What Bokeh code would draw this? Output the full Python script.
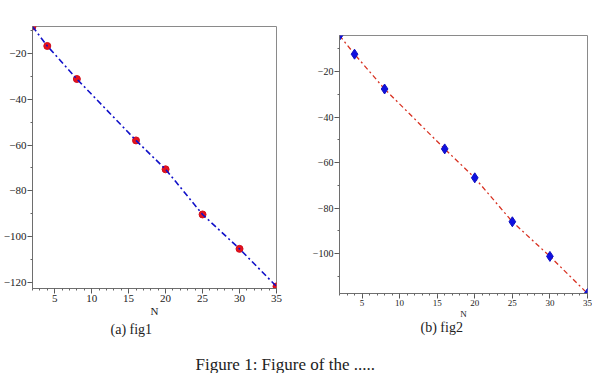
from bokeh.plotting import figure
from bokeh.layouts import column, row
from bokeh.models import Range1d, SingleIntervalTicker, Label, Spacer
from bokeh.embed import file_html
from bokeh.resources import INLINE

# ---- data ----
N = [2, 4, 8, 16, 20, 25, 30, 35]
fig1_vals = [-8.3, -16.8, -31.2, -58.0, -70.6, -90.3, -105.3, -121.7]
fig2_vals = [-4.2, -12.4, -27.7, -54.0, -66.7, -86.0, -101.2, -117.5]
fig1_yrange = (-122.6, -8.3)
fig2_yrange = (-117.5, -4.2)
x_range_vals = (2, 35)
caption_a = "(a) fig1"
caption_b = "(b) fig2"
fig_caption = "Figure 1: Figure of the ....."
xlabel = "N"

SERIF = "Liberation Serif"


def style(p, tick_font, label_font):
    p.xgrid.visible = False
    p.ygrid.visible = False
    p.outline_line_color = "#8a8a8a"
    p.outline_line_width = 1
    p.background_fill_color = "white"
    p.border_fill_color = "white"
    p.xaxis.ticker = SingleIntervalTicker(interval=5, num_minor_ticks=5)
    p.yaxis.ticker = SingleIntervalTicker(interval=20, num_minor_ticks=2)
    for ax in (p.xaxis, p.yaxis):
        ax.axis_line_color = "#6e6e6e"
        ax.major_tick_line_color = "#555555"
        ax.minor_tick_line_color = "#666666"
        ax.major_tick_in = 0
        ax.major_tick_out = 5
        ax.minor_tick_in = 0
        ax.minor_tick_out = 2
        ax.major_label_text_font = SERIF
        ax.major_label_text_font_size = tick_font
        ax.major_label_text_color = "#222222"
        ax.major_label_standoff = 1
        ax.axis_label_text_font = SERIF
        ax.axis_label_text_font_style = "normal"
        ax.axis_label_text_font_size = label_font
        ax.axis_label_text_color = "#222222"
        ax.axis_label_standoff = 0


# ---- fig1 ----
p1 = figure(title=None, frame_width=244, frame_height=262, output_backend="svg", toolbar_location=None,
            x_range=Range1d(*x_range_vals), y_range=Range1d(*fig1_yrange),
            min_border_left=26, min_border_right=20, min_border_top=26, min_border_bottom=33)
style(p1, "11px", "11px")
p1.xaxis.axis_label = xlabel
p1.scatter(N, fig1_vals, marker="circle", size=7, fill_color="#e8101c", line_color="#d0101c")
p1.line(N, fig1_vals, line_color="#1010c8", line_width=1.6, line_dash="6 3 2 3")

# ---- fig2 ----
p2 = figure(title=None, frame_width=248, frame_height=258, output_backend="svg", toolbar_location=None,
            x_range=Range1d(*x_range_vals), y_range=Range1d(*fig2_yrange),
            min_border_left=43, min_border_right=5, min_border_top=26, min_border_bottom=28)
style(p2, "10px", "9px")
p2.xaxis.major_label_text_font_size = "9px"
p2.xaxis.axis_label = xlabel
p2.line(N, fig2_vals, line_color="#d83222", line_width=1.3, line_dash="5 3 2 3")
p2.scatter(N, fig2_vals, marker="diamond", size=10, fill_color="#1010e0", line_color="#1010c0")

# ---- captions ----
CAP_H = 52
p3 = figure(title=None, width=594, height=CAP_H, output_backend="svg", toolbar_location=None,
            x_range=Range1d(0, 594), y_range=Range1d(0, CAP_H),
            x_axis_location=None, y_axis_location=None,
            min_border=0, outline_line_color=None)
p3.xgrid.visible = False
p3.ygrid.visible = False
for txt, xpos, ypos, fs in ((caption_a, 110, 8, "14px"), (caption_b, 420, 6, "14px"),
                            (fig_caption, 195, 43, "17px")):
    p3.add_layout(Label(x=xpos, y=CAP_H - ypos, text=txt, text_font=SERIF, text_font_size=fs,
                        text_color="#222222", text_baseline="middle", text_align="left"))

layout = column(row(p1, column(Spacer(height=9, width=296), p2, spacing=0), spacing=0), p3, spacing=0)
open("out.html", "w").write(file_html(layout, INLINE))
